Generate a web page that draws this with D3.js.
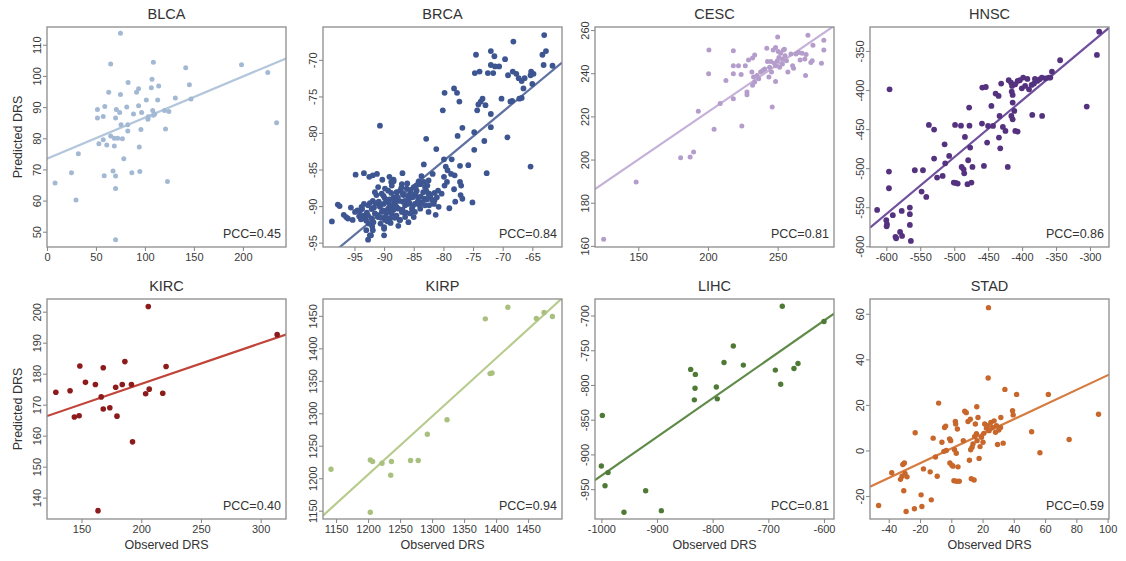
<!doctype html>
<html>
<head>
<meta charset="utf-8">
<script src="https://d3js.org/d3.v7.min.js"></script>
<style>
  body { margin: 0; background: #fff; }
  text { font-family: "Liberation Sans", Arial, sans-serif; fill: #333; }
</style>
</head>
<body>
<svg id="chart" width="1126" height="561"></svg>
<script>
// panel names and the PCC printed in each corner
var titles = ["BLCA", "BRCA", "CESC", "HNSC", "KIRC", "KIRP", "LIHC", "STAD"];
var pccLabels = ["0.45", "0.84", "0.81", "0.86", "0.40", "0.94", "0.81", "0.59"];

// axis ranges
var xDomains = [[0, 244], [-100.3, -60], [119, 290.4], [-624, -272],
                [121.1, 321.2], [1129.6, 1503], [-1011.4, -582], [-52, 100.9]];
var yDomains = [[45.1, 115.7], [-95.6, -65.5], [159.5, 261.4], [-601, -319.3],
                [133.1, 204.1], [1137.2, 1476], [-993, -676.2], [-30.1, 66.5]];

var xTicks = [
  [0, 50, 100, 150, 200],
  [-95, -90, -85, -80, -75, -70, -65],
  [150, 200, 250],
  [-600, -550, -500, -450, -400, -350, -300],
  [150, 200, 250, 300],
  [1150, 1200, 1250, 1300, 1350, 1400, 1450],
  [-1000, -900, -800, -700, -600],
  [-40, -20, 0, 20, 40, 60, 80, 100]
];
var yTicks = [
  [50, 60, 70, 80, 90, 100, 110],
  [-95, -90, -85, -80, -75, -70],
  [160, 180, 200, 220, 240, 260],
  [-600, -550, -500, -450, -400, -350],
  [140, 150, 160, 170, 180, 190, 200],
  [1150, 1200, 1250, 1300, 1350, 1400, 1450],
  [-950, -900, -850, -800, -750, -700],
  [-20, 0, 20, 40, 60]
];

// fitted lines: [intercept, slope]
var fits = [[73.4, 0.132], [-29.92, 0.674], [133.8, 0.441], [-122.5, 0.727],
            [150.4, 0.1315], [130.3, 0.896], [-372.7, 0.558], [0.8, 0.322]];

// observed / predicted DRS pairs
var blcaPts = [[8.2,65.6],[25,68.9],[29.6,60.2],[32,75],[51.5,89.2],[51.5,86.5],[57.4,87],[59,90.2],
  [53,78.2],[57.4,79.5],[61,77.8],[58.4,68],[63,94.8],[65,103.8],[65,80.7],[67.4,69.5],[68.7,77.5],
  [68.7,80],[70,67.9],[70,63.9],[70,86.5],[70.8,89.2],[72.2,80],[74.2,88.3],[75,113.7],[75,94],
  [75.6,84.3],[77,79.8],[78.4,73.4],[70,47.4],[81.4,90],[82.8,97.9],[82.5,82.3],[82.5,84.3],[86.6,68.9],
  [88.3,87.8],[91.4,94.8],[93.5,95.9],[93.5,90.4],[94.2,77.2],[94.8,69.3],[95.9,82.8],[96.6,88.3],
  [101.4,92.3],[103,86.1],[103.4,86.9],[106.5,96.2],[107.2,98.9],[107.9,88.9],[108.6,87.4],[108.6,104.4],
  [110,87.8],[113,92.3],[114,96.8],[120,88.9],[121,83],[123,66.1],[124.4,88.6],[131,92.9],[141.6,102.6],
  [145.4,97.2],[147,92.6],[198.6,103.6],[225.4,101.1],[234.4,85]];

var brcaPts = [[-63,-66.6],[-62.7,-68.8],[-63.3,-69.3],[-63.1,-70.7],[-61.6,-70.8],[-68.2,-67.5],[-74.5,-69.3],
  [-72,-68.8],[-71.4,-69.5],[-69.6,-69.9],[-72,-70.7],[-71.3,-70.9],[-70.6,-70.9],[-72.5,-71.8],[-71.6,-71.8],
  [-69.1,-72.1],[-68.3,-71.6],[-67.7,-71.9],[-67.3,-72.5],[-66.8,-72.9],[-66.3,-72.5],[-65.2,-71.6],
  [-64.8,-71.9],[-65.3,-72.1],[-74.7,-71.8],[-73.9,-71.6],[-65,-73.3],[-66.5,-73.9],[-66.8,-75.2],
  [-67.2,-75.3],[-68.4,-75.6],[-68.7,-75.7],[-70.2,-75.3],[-73.4,-75.3],[-73.7,-75.7],[-74.1,-76.1],
  [-72.9,-76.2],[-74.3,-76.9],[-72,-77.4],[-78.2,-73.9],[-77.7,-74.5],[-79.8,-74.5],[-77.3,-75.7],
  [-80.1,-76.9],[-76.8,-79.3],[-77.6,-80.4],[-74.8,-79.9],[-73.1,-81.1],[-72,-79.2],[-69.2,-80.6],
  [-74.8,-82.3],[-81.2,-82.2],[-82.9,-80.8],[-90.7,-79],[-65.3,-84.6],[-72.7,-85.5],[-75.1,-89.5],
  [-83.3,-84.3],[-79.9,-83.6],[-78.6,-83.6],[-77.2,-84.5],[-75.8,-84.4],[-79.6,-84.6],[-79.3,-85.1],
  [-78.7,-85.6],[-78.1,-85.8],[-79.9,-86],[-79.4,-86.7],[-77.2,-86.7],[-77,-87.2],[-77.1,-88.5],
  [-76.8,-89],[-78.2,-87.7],[-78,-89.4],[-79.8,-87.2],[-80.3,-88.3],[-80.9,-87.9],[-81.5,-89.2],
  [-81.3,-91.2],[-79,-90.3],[-82.4,-89.9],[-82.4,-88.3],[-83.1,-87.4],[-82.5,-86.5],[-81.8,-85.6],
  [-83.7,-85.9],[-84.2,-86.7],[-84.7,-87.4],[-86.9,-85.5],[-88.4,-86.4],[-88.8,-86.7],[-94.8,-85.7],
  [-93.4,-85.5],[-92.5,-86],[-91.9,-85.8],[-91.2,-85.6],[-97.8,-89.8],[-97.5,-90],[-98.8,-92.1],
  [-96.8,-91.2],[-96.4,-91.5],[-96.1,-91.7],[-95.3,-91.9],[-93,-93.3],[-92,-92.8],[-91.9,-93.3],
  [-92.7,-94.6],[-92.4,-94],[-90,-94],[-90,-92.9],[-87.4,-91.9],[-86,-89.7],[-84.8,-88.6],[-83.1,-89.1],
  [-94.9,-90.8],[-94.5,-90.6],[-94.1,-90.7],[-93.5,-91.3],[-93.2,-91.7],[-93,-92],[-93.8,-90.1],
  [-93.4,-89.7],[-92.7,-89.9],[-92.1,-90.4],[-92.2,-94],[-90,-93.1],[-91.55,-91],[-91,-91.5],
  [-90.4,-90.8],[-90.7,-90.1],[-90.1,-89.7],[-89.6,-89.2],[-89.3,-90.35],[-88.7,-91],[-89.85,-91.9],
  [-89,-91.7],[-88.15,-89.7],[-87.6,-90.35],[-87,-90.8],[-86.45,-89.9],[-85.9,-89.2],[-85.3,-90.35],
  [-84.8,-89.7],[-84.2,-88.8],[-83.6,-89.45],[-83.1,-89],[-82.5,-88.3],[-81.9,-89.2],[-86.45,-91.5],
  [-85.6,-91],[-84.8,-90.8],[-83.9,-90.35],[-83.1,-89.9],[-82.5,-90.8],[-81.6,-89.7],[-81.1,-88.8],
  [-80.8,-90.1],[-88.4,-88.8],[-87.9,-88.1],[-87.3,-87.9],[-86.7,-88.5],[-86.2,-87.6],[-85.6,-88.3],
  [-85,-87.4],[-84.5,-87.9],[-83.9,-87],[-83.3,-86.7],[-90.4,-88.3],[-89.85,-87.6],[-89.3,-87.9],
  [-88.7,-87.2],[-91.3,-88.5],[-91,-87.4],[-91.55,-88.1],[-87.9,-91.3],[-87.3,-91.9],[-85.9,-92.2],
  [-85,-91.5],[-89.6,-90.8],[-88.4,-90.5],[-92.7,-91.3],[-92.1,-91.7],[-88.4,-86.6],[-87,-87],
  [-90.9,-89.4],[-89.9,-88.9],[-88,-89.1],[-86.8,-89.4],[-85.2,-88.8],[-84,-89.9],[-86.3,-90.9],
  [-91.9,-89.3],[-90.6,-92.4],[-88.9,-92.3],[-87.6,-92.7],[-94.2,-91.4],[-95.6,-90.2],[-82.9,-87.9],
  [-84.6,-87.2],[-86.1,-86.9],[-89.1,-86],[-90.3,-86.4],[-88.6,-90],[-87.8,-88.7],[-86.9,-88.2],
  [-93.7,-90.4],[-92.9,-90.9],[-92.4,-89.6],[-91.7,-90.2],[-91.2,-91.2],[-90.8,-89.9],[-90.2,-90.6],
  [-89.7,-91.4],[-89.2,-89.6],[-88.9,-90.9],[-88.3,-89.4],[-87.9,-90.1],[-87.4,-89.3],[-86.9,-90.5],
  [-86.5,-89.3],[-86,-88.6],[-85.7,-89.6],[-85.2,-90.1],[-84.7,-88.3],[-84.3,-89.3],[-83.8,-88.7],
  [-83.4,-88.1],[-82.8,-89.1],[-82.2,-88.7],[-81.5,-88.2],[-90.5,-91.6],[-89.4,-92.1],[-88.2,-91.6],
  [-91.8,-92.2],[-93.9,-91.8],[-92.6,-92.4],[-87.1,-87.5],[-85.5,-87.8],[-84.1,-86.6],[-82.7,-87.2],
  [-88.8,-88.2],[-90.1,-88.6],[-91.4,-89.6],[-89.1,-89.1],[-86.6,-90.9]];

var cescPts = [[125.2,163.1],[148.5,189.6],[180.4,200.8],[187.2,201.2],[189.7,203.5],[193.1,222.4],
  [200.7,250.7],[200.5,239.7],[208.8,226],[204.4,214],[212.9,236.6],[218.2,250.4],[218.2,243.4],
  [218.2,239.7],[218.2,228.2],[221.9,243.5],[223.8,239.4],[224.3,215.6],[226.8,243.4],[228,231.3],
  [228,230],[229.1,246.1],[232,247],[233.5,248.4],[231.5,240.5],[232.7,238.2],[233.5,235.9],[232,234.4],
  [235.2,238.9],[236.4,237.4],[237.8,240.5],[239.3,241.2],[240.7,242],[242.2,251.6],[244.2,242.8],
  [245.6,240.5],[246.8,250.7],[248.5,251.9],[250,256.8],[248.5,236.2],[246.1,224.4],[247.6,244.6],
  [248.5,243.5],[249.8,245.8],[250.9,247.3],[251.4,242.7],[252.1,249.2],[253.4,246.6],[254.8,251.1],
  [255.3,248.1],[256.3,245.8],[257.3,240.5],[259.5,248.9],[260.7,243.5],[261.4,242.3],[263.1,248.9],
  [265.1,249.6],[266.1,246.1],[267.5,249.2],[269.5,246.6],[270,238.9],[270.4,248.7],[271.7,257.6],
  [273.8,245],[275.3,253],[274.8,245.8],[281.4,244.6],[283.1,255.3],[283.1,250.7],[245.1,245.4],
  [242.7,245.4],[253.4,244.3],[254.1,250.7],[243.7,238.2],[250.4,250.1]];

var hnscPts = [[-613.5,-553.5],[-600,-566.7],[-599,-571.8],[-599.5,-574.4],[-590.4,-560.3],[-586.5,-588],
  [-585.5,-589.8],[-579.7,-581.7],[-576.8,-586.8],[-577.3,-554.8],[-565.3,-550.5],[-565.3,-559],
  [-565.3,-572.7],[-563.8,-593.2],[-596.1,-504.4],[-596.1,-525.8],[-595.2,-399.1],[-558,-502.7],
  [-546,-502.7],[-548,-530],[-541.1,-536.9],[-537.3,-444.7],[-529.6,-450.7],[-529.6,-487.8],
  [-525.2,-512.1],[-517,-510],[-514.1,-469.5],[-513.2,-493.8],[-507.4,-484.4],[-498.7,-444.7],
  [-500.6,-518.5],[-497.7,-518.9],[-494.8,-519.8],[-490,-445.6],[-489,-498.5],[-486.2,-501.5],
  [-485.2,-506.6],[-484.2,-460.1],[-480.4,-520.6],[-479.4,-489.9],[-478,-422.5],[-477.5,-445.6],
  [-476.5,-473.7],[-474.6,-518.5],[-473.1,-498.5],[-459.1,-443],[-458.6,-396.9],[-456.2,-497.2],
  [-453.4,-396.1],[-451.5,-467.3],[-450.1,-446],[-445.2,-420.4],[-442.8,-446],[-439,-404.6],
  [-434.6,-407.6],[-434.1,-460.9],[-433.2,-433.2],[-432.2,-474.6],[-430.8,-391.8],[-428.3,-447.3],
  [-424.5,-452.4],[-421.1,-498.5],[-419.7,-387.5],[-416.3,-390.5],[-414.8,-394.8],[-415.3,-402],
  [-413.9,-406.3],[-413.9,-416.1],[-415.8,-433.2],[-413.9,-437.5],[-411.5,-426.8],[-410,-392.7],
  [-406.6,-388.4],[-410,-452.4],[-406.6,-453.2],[-403.3,-387.5],[-400.4,-397.8],[-398.4,-384.1],
  [-395.5,-394.8],[-392.2,-385.8],[-389.8,-399.1],[-385.9,-393.5],[-385,-431.9],[-382.5,-391.8],
  [-381.1,-385.8],[-377.7,-388.4],[-374.3,-386.3],[-370.5,-433.2],[-365.6,-385],[-360.8,-384.1],
  [-358.4,-384.1],[-356,-376.5],[-344,-361.9],[-304.8,-421.2],[-289.8,-355.1],[-286.4,-325.3],
  [-370.9,-384.1]];

var kircPts = [[128.5,174],[140.4,174.5],[144,166],[148,166.4],[148.6,182.5],[153.3,177.2],[161.6,176.5],
  [166.5,172.5],[168.2,181.9],[168.2,168.6],[173.7,169],[178.6,175.6],[179.7,166.3],[184.1,176.5],
  [186.3,183.9],[191.8,176.5],[192.7,158],[203.7,173.5],[205.9,201.7],[206.7,175],[218,173.7],
  [220.8,182.3],[163.8,135.8],[313.8,192.6]];

var kirpPts = [[1142.1,1213.9],[1203.5,1228.2],[1207.1,1225.7],[1221.8,1223.1],[1236.5,1225.7],
  [1235.4,1204.7],[1203.5,1147.5],[1266.4,1227.2],[1278.4,1227.2],[1292.6,1267.6],[1323.4,1290.1],
  [1383.2,1445.4],[1390.6,1361.1],[1393.7,1362.1],[1418.4,1463.3],[1462.9,1445.9],[1475,1455.1],
  [1488,1449]];

var lihcPts = [[-1000,-916.7],[-998.2,-843.8],[-988,-926.2],[-993.4,-945.2],[-959.3,-983.3],[-920.4,-952.4],
  [-892.2,-981],[-839.5,-777.6],[-831.1,-784.8],[-831.7,-804.8],[-832.9,-821.4],[-793.4,-802.9],
  [-791.7,-820],[-779.6,-767.6],[-762.9,-743.8],[-744.9,-771.4],[-687.4,-778.6],[-674.9,-686.7],
  [-677.8,-799],[-653.9,-776.2],[-646.7,-769],[-600,-708.6]];

var stadPts = [[-46.5,-24.2],[-38.1,-9.8],[-32.5,-12.7],[-31.5,-11.3],[-31,-6.2],[-30,-5.5],[-30.4,-17.7],
  [-29.6,-10.1],[-28.3,-11.6],[-28.9,-26.8],[-23.6,-25.6],[-23.1,7.8],[-19.3,-19.5],[-18.8,-24.6],
  [-17.8,-8.1],[-12.8,-21.7],[-13.5,-9.4],[-11.6,5.4],[-10.1,-2.9],[-9,-11.3],[-8.1,20.8],[-6,3.6],
  [-4.7,-0.4],[-4.3,10.1],[-3.6,10.7],[-3.2,0],[-1.1,5.1],[-0.4,4.3],[-0.9,-5.5],[0.4,-6.5],[1.1,-6.9],
  [2.1,0.3],[2.6,12.7],[2.8,11.6],[3.2,-1.2],[3.9,9.4],[4.3,-7.2],[1.7,-13.3],[3.4,-13.5],[5.1,-13.5],
  [7.7,4.3],[8.6,17.2],[9.6,16.6],[10.7,12.7],[11.6,-4.3],[12.2,13.7],[12.4,0.3],[12.8,-12.4],[13.3,1.4],
  [13.9,2.9],[14.6,-13],[15,6.1],[15.4,11.6],[16.1,7.4],[16.3,19.2],[16.5,4.3],[17.1,14.5],[17.8,-3.5],
  [18.4,1.7],[19.3,5.8],[20.3,3.6],[20.8,7.5],[21.4,11.6],[22.5,9.8],[23.1,10.9],[23.8,62.7],[23.6,31.8],
  [24.2,8.7],[25.3,12.3],[26.1,10.1],[27.4,13],[28.3,8],[28.9,10.9],[29.6,2.6],[30.4,9],[31.5,10.1],
  [31.7,14.5],[33.2,3.2],[34.3,26.8],[39.2,17.4],[39.6,15.6],[41.8,24.6],[51.4,8.2],[56.7,-1],
  [62.1,24.6],[75.4,4.8],[94.2,15.9]];

var allPts = [blcaPts, brcaPts, cescPts, hnscPts, kircPts, kirpPts, lihcPts, stadPts];

var dotColors = ["#a3b9d3", "#3d5590", "#b59dcb", "#55327f", "#8e1b1b", "#a9c07e", "#4e7a36", "#c8672b"];
var lineColors = ["#b4c6db", "#5f71a0", "#c4b0d8", "#70509c", "#c0443a", "#b8cb8e", "#5f8a48", "#d67c40"];
var radii = [2.5, 2.9, 2.5, 2.9, 2.8, 2.7, 2.7, 2.7];

// layout
var lefts = [47, 323, 595, 870];
var tops = [27, 299];
var W = 239, H = 220;

var svg = d3.select("#chart");

titles.forEach(function(name, i) {
    var row = Math.floor(i / 4), col = i % 4;
    var g = svg.append("g").attr("transform", "translate(" + lefts[col] + "," + tops[row] + ")");

    var x = d3.scaleLinear().domain(xDomains[i]).range([0, W]);
    var y = d3.scaleLinear().domain(yDomains[i]).range([H, 0]);

    g.append("clipPath").attr("id", "clip" + i)
        .append("rect").attr("width", W).attr("height", H);

    // fitted line
    var f = fits[i];
    g.append("line")
        .attr("clip-path", "url(#clip" + i + ")")
        .attr("x1", x(xDomains[i][0])).attr("y1", y(f[0] + f[1] * xDomains[i][0]))
        .attr("x2", x(xDomains[i][1])).attr("y2", y(f[0] + f[1] * xDomains[i][1]))
        .style("stroke", lineColors[i]).style("stroke-width", 2.2);

    // dots
    g.selectAll("circle").data(allPts[i]).enter().append("circle")
        .attr("cx", function(d) { return x(d[0]); })
        .attr("cy", function(d) { return y(d[1]); })
        .attr("r", radii[i])
        .style("fill", dotColors[i]);

    // frame
    g.append("rect").attr("width", W).attr("height", H)
        .style("fill", "none").style("stroke", "#8c8c8c").style("stroke-width", 1.3);

    // x axis
    var xa = g.append("g").attr("transform", "translate(0," + H + ")")
        .call(d3.axisBottom(x).tickValues(xTicks[i]).tickSize(4).tickPadding(2).tickFormat(function(v) { return String(v); }));
    // y axis
    var ya = g.append("g")
        .call(d3.axisLeft(y).tickValues(yTicks[i]).tickSize(4).tickPadding(2).tickFormat(function(v) { return String(v); }));
    [xa, ya].forEach(function(a) {
        a.select(".domain").remove();
        a.selectAll(".tick line").style("stroke", "#8c8c8c").style("stroke-width", 1.1);
        a.selectAll("text").style("font-size", "11px").style("fill", "#3a3a3a")
            .style("font-family", "'Liberation Sans', Arial, sans-serif");
    });
    ya.selectAll("text")
        .attr("transform", "rotate(-90)")
        .attr("x", 0).attr("y", -6).attr("dy", 0)
        .style("text-anchor", "middle");

    // title
    g.append("text").attr("x", W / 2).attr("y", -8)
        .attr("text-anchor", "middle").style("font-size", "14.5px")
        .text(name);

    // PCC
    g.append("text").attr("x", W - 5).attr("y", H - 9)
        .attr("text-anchor", "end").style("font-size", "12.5px")
        .text("PCC=" + pccLabels[i]);

    if (col == 0) {
        g.append("text").attr("transform", "translate(-25," + (H / 2) + ") rotate(-90)")
            .attr("text-anchor", "middle").style("font-size", "12.5px")
            .text("Predicted DRS");
    }
    if (row == 1) {
        g.append("text").attr("x", W / 2).attr("y", H + 30)
            .attr("text-anchor", "middle").style("font-size", "12.5px")
            .text("Observed DRS");
    }
});
</script>
</body>
</html>
